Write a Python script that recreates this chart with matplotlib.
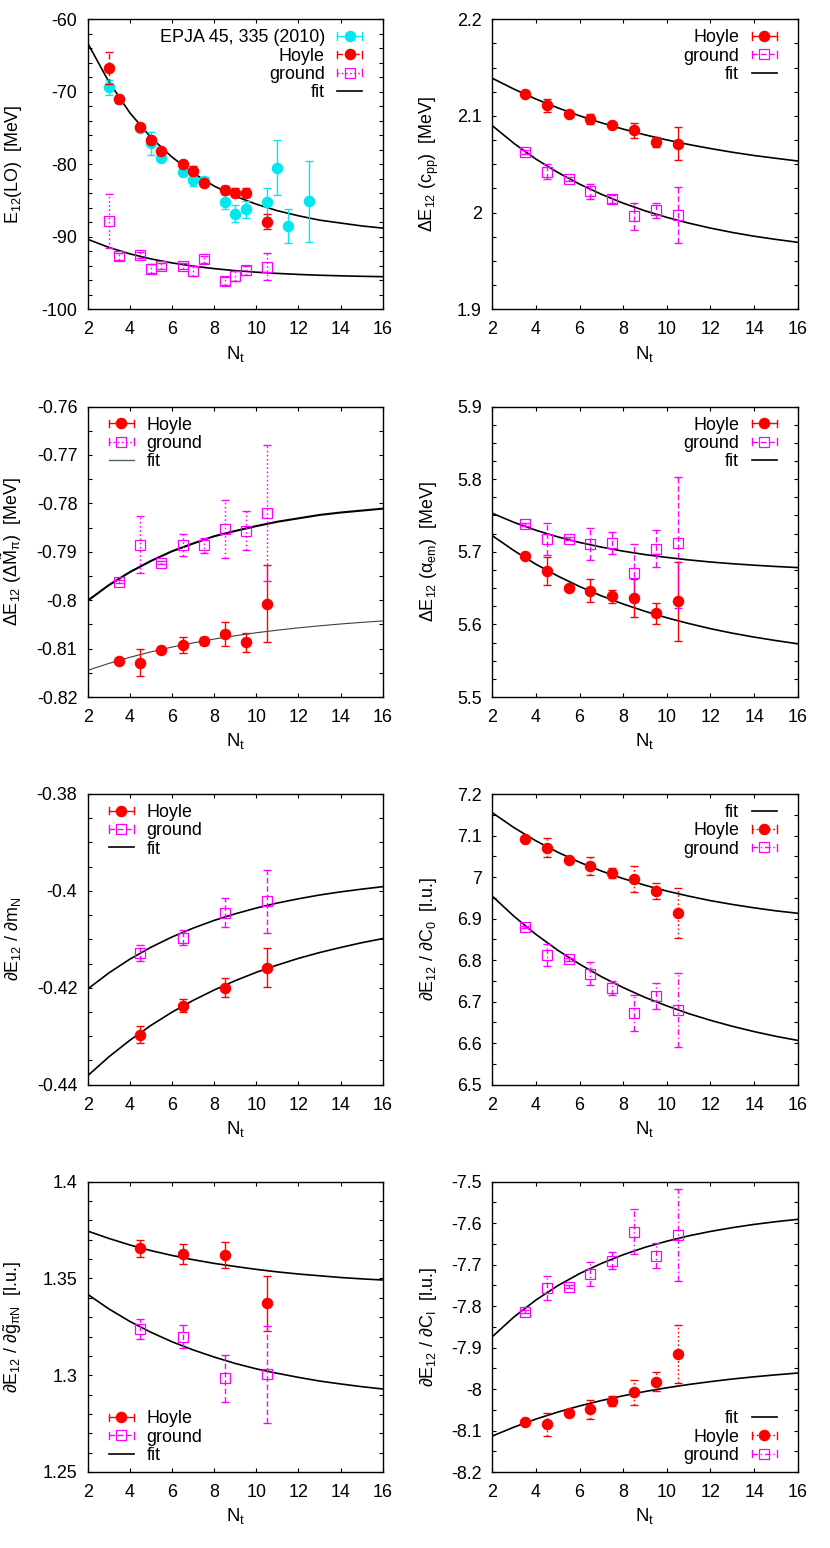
import matplotlib
matplotlib.use('Agg')
import matplotlib.pyplot as plt
from matplotlib.ticker import MultipleLocator, FormatStrFormatter
from matplotlib.legend_handler import HandlerBase
from matplotlib.lines import Line2D

plt.rcParams['font.family'] = ['Liberation Sans', 'DejaVu Sans']
plt.rcParams['mathtext.fontset'] = 'custom'
plt.rcParams['mathtext.rm'] = 'Liberation Sans'
plt.rcParams['mathtext.it'] = 'Liberation Sans:italic'
plt.rcParams['mathtext.bf'] = 'Liberation Sans:bold'
plt.rcParams['mathtext.default'] = 'regular'
plt.rcParams['axes.unicode_minus'] = False

FS = 12.9

# ---------------- data ----------------
FIT_NT = [2, 3, 4, 5, 6, 7, 8, 9, 10, 11, 12, 13, 14, 15, 16]
NT_ALL = [3.5, 4.5, 5.5, 6.5, 7.5, 8.5, 9.5, 10.5]
NT_EVEN = [4.5, 6.5, 8.5, 10.5]

# panel 1: E12(LO)
LO_NT = [3, 3.5, 4.5, 5, 5.5, 6.5, 7, 7.5, 8.5, 9, 9.5, 10.5]
LO_EPJA_NT = [3, 3.5, 4.5, 5, 5.5, 6.5, 7, 7.5, 8.5, 9, 9.5, 10.5, 11, 11.5, 12.5]
LO_EPJA = [-69.4, -71.0, -75.0, -77.1, -79.1, -81.05, -82.1, -82.3, -85.2, -86.8, -86.2, -85.2, -80.5, -88.5, -85.1]
LO_EPJA_ERR = [1.0, 0.6, 0.4, 1.6, 0.5, 0.5, 0.9, 0.5, 1.0, 1.2, 1.2, 2.0, 3.8, 2.4, 5.6]
LO_HOYLE = [-66.7, -71.0, -74.8, -76.6, -78.2, -79.95, -80.9, -82.6, -83.5, -83.9, -83.9, -87.9]
LO_HOYLE_ERR = [2.2, 0.5, 0.4, 0.5, 0.4, 0.4, 0.6, 0.4, 0.5, 0.6, 0.6, 1.0]
LO_GROUND = [-87.8, -92.7, -92.5, -94.4, -94.0, -94.0, -94.7, -93.1, -96.1, -95.4, -94.6, -94.1]
LO_GROUND_ERR = [3.7, 0.5, 0.4, 0.6, 0.4, 0.4, 0.7, 0.5, 0.5, 0.7, 0.6, 1.8]
LO_FIT_HOYLE = [-63.3, -68.6, -72.9, -76.3, -79.0, -81.2, -83.0, -84.4, -85.5, -86.4, -87.1, -87.7, -88.1, -88.5, -88.8]
LO_FIT_GROUND = [-90.34, -91.46, -92.35, -93.05, -93.60, -94.04, -94.39, -94.67, -94.88, -95.05, -95.19, -95.30, -95.38, -95.45, -95.50]

# panel 2: dE12(c_pp)
CPP_HOYLE = [2.1224, 2.111, 2.1024, 2.0966, 2.091, 2.0852, 2.0728, 2.0714]
CPP_HOYLE_ERR = [0.002, 0.007, 0.002, 0.005, 0.003, 0.008, 0.005, 0.017]
CPP_GROUND = [2.0631, 2.0424, 2.0352, 2.0221, 2.0141, 1.9962, 2.0024, 1.9976]
CPP_GROUND_ERR = [0.002, 0.008, 0.002, 0.008, 0.004, 0.014, 0.008, 0.029]
CPP_FIT_HOYLE = [2.139, 2.1277, 2.1175, 2.1084, 2.1002, 2.0929, 2.0864, 2.0805, 2.0752, 2.0705, 2.0663, 2.0625, 2.0591, 2.0562, 2.0534]
CPP_FIT_GROUND = [2.0900, 2.0715, 2.0554, 2.0416, 2.0295, 2.0190, 2.0098, 2.0019, 1.9951, 1.9892, 1.9840, 1.9795, 1.9756, 1.9723, 1.9693]

# panel 3: dE12(dM_pi)
MPI_HOYLE = [-0.81256, -0.8129, -0.81036, -0.80925, -0.80843, -0.80698, -0.8087, -0.8007]
MPI_HOYLE_ERR = [0.0003, 0.0028, 0.0003, 0.0017, 0.0008, 0.0025, 0.002, 0.0079]
MPI_GROUND = [-0.79623, -0.78852, -0.7923, -0.78859, -0.78866, -0.78521, -0.78563, -0.78204]
MPI_GROUND_ERR = [0.0003, 0.0059, 0.0003, 0.0023, 0.0016, 0.0060, 0.0041, 0.0141]
MPI_FIT_GROUND = [-0.8001, -0.7969, -0.7942, -0.7919, -0.7899, -0.7883, -0.7868, -0.7857, -0.7847, -0.7838, -0.7831, -0.7824, -0.7819, -0.7815, -0.7811]
MPI_FIT_HOYLE = [-0.81449, -0.81307, -0.81180, -0.81068, -0.80969, -0.80882, -0.80803, -0.80735, -0.80673, -0.80620, -0.80572, -0.80530, -0.80492, -0.80459, -0.80429]

# panel 4: dE12(alpha_em)
AEM_HOYLE = [5.6947, 5.6732, 5.6507, 5.6466, 5.6384, 5.6365, 5.615, 5.6315]
AEM_HOYLE_ERR = [0.002, 0.019, 0.002, 0.016, 0.0096, 0.026, 0.015, 0.055]
AEM_GROUND = [5.7378, 5.718, 5.718, 5.7103, 5.7125, 5.6713, 5.7044, 5.7125]
AEM_GROUND_ERR = [0.002, 0.022, 0.002, 0.022, 0.015, 0.04, 0.025, 0.09]
AEM_FIT_GROUND = [5.7530, 5.7404, 5.7296, 5.7205, 5.7128, 5.7064, 5.7008, 5.6961, 5.6922, 5.6888, 5.6859, 5.6835, 5.6815, 5.6797, 5.6782]
AEM_FIT_HOYLE = [5.7222, 5.7014, 5.6828, 5.6666, 5.6521, 5.6393, 5.6280, 5.6180, 5.6091, 5.6012, 5.5941, 5.5879, 5.5825, 5.5777, 5.5733]

# panel 5: dE12/dm_N
MN_HOYLE = [-0.42968, -0.42369, -0.41998, -0.41585]
MN_HOYLE_ERR = [0.0017, 0.0013, 0.0019, 0.0040]
MN_GROUND = [-0.41282, -0.40966, -0.4045, -0.40216]
MN_GROUND_ERR = [0.0016, 0.0016, 0.0030, 0.0065]
MN_FIT_GROUND = [-0.42025, -0.41695, -0.41409, -0.41164, -0.40951, -0.40769, -0.40609, -0.40473, -0.40354, -0.40250, -0.40163, -0.40085, -0.40020, -0.39964, -0.39913]
MN_FIT_HOYLE = [-0.43814, -0.43427, -0.43083, -0.42777, -0.42503, -0.42261, -0.42046, -0.41853, -0.41681, -0.41530, -0.41393, -0.41273, -0.41168, -0.41070, -0.40985]

# panel 6: dE12/dC0
C0_HOYLE = [7.0908, 7.0708, 7.0419, 7.0266, 7.0097, 6.9945, 6.9664, 6.9134]
C0_HOYLE_ERR = [0.003, 0.023, 0.003, 0.022, 0.012, 0.031, 0.019, 0.061]
C0_GROUND = [6.8797, 6.8131, 6.8018, 6.7673, 6.7336, 6.6726, 6.7127, 6.6798]
C0_GROUND_ERR = [0.003, 0.0265, 0.003, 0.027, 0.017, 0.044, 0.031, 0.09]
C0_FIT_HOYLE = [7.1550, 7.1188, 7.0872, 7.0598, 7.0356, 7.0145, 6.9963, 6.9803, 6.9663, 6.9541, 6.9432, 6.9341, 6.9259, 6.9187, 6.9128]
C0_FIT_GROUND = [6.9540, 6.9052, 6.8620, 6.8238, 6.7903, 6.7602, 6.7339, 6.7102, 6.6898, 6.6712, 6.6551, 6.6407, 6.6279, 6.6165, 6.6067]

# panel 7: dE12/dg_piN
GPN_HOYLE = [1.36556, 1.36263, 1.36211, 1.33714]
GPN_HOYLE_ERR = [0.0044, 0.005, 0.0069, 0.0142]
GPN_GROUND = [1.32389, 1.31992, 1.29840, 1.30047]
GPN_GROUND_ERR = [0.0053, 0.006, 0.012, 0.025]
GPN_FIT_HOYLE = [1.3745, 1.3707, 1.3673, 1.3644, 1.3619, 1.3597, 1.3578, 1.3562, 1.3547, 1.3534, 1.3523, 1.3514, 1.3505, 1.3498, 1.3492]
GPN_FIT_GROUND = [1.3418, 1.3343, 1.3278, 1.3222, 1.3173, 1.3131, 1.3094, 1.3061, 1.3033, 1.3010, 1.2989, 1.2970, 1.2955, 1.2941, 1.2929]

# panel 8: dE12/dC_I
CI_HOYLE = [-8.0788, -8.0852, -8.0587, -8.049, -8.0289, -8.008, -7.9823, -7.9156]
CI_HOYLE_ERR = [0.003, 0.027, 0.003, 0.022, 0.013, 0.03, 0.0225, 0.0703]
CI_GROUND = [-7.8135, -7.7572, -7.7532, -7.7227, -7.6905, -7.6206, -7.6785, -7.6286]
CI_GROUND_ERR = [0.003, 0.029, 0.003, 0.03, 0.021, 0.0547, 0.030, 0.11]
CI_FIT_GROUND = [-7.8738, -7.8258, -7.7853, -7.7508, -7.7216, -7.6971, -7.6761, -7.6582, -7.6435, -7.6306, -7.6199, -7.6108, -7.6030, -7.5964, -7.5908]
CI_FIT_HOYLE = [-8.1133, -8.0917, -8.0724, -8.0556, -8.0407, -8.0277, -8.0162, -8.0059, -7.9969, -7.9890, -7.9821, -7.9758, -7.9705, -7.9657, -7.9614]

# ---------------- styles ----------------
RED = '#ff0000'
MAG = '#ff00ff'
CYAN = '#00e8f0'
SOLID = '-'
DASH = (0, (4, 2))
DOT = (0, (1.2, 1.8))
DASHDOT = (0, (4, 2, 1, 2))


class ErrKey:
    def __init__(self, color, ls, marker, filled, lw=1.0):
        self.color = color
        self.ls = ls
        self.marker = marker
        self.filled = filled
        self.lw = lw


class LineKey:
    def __init__(self, color, lw):
        self.color = color
        self.lw = lw


class ErrHandler(HandlerBase):
    def create_artists(self, legend, orig, xdescent, ydescent, width, height,
                       fontsize, trans):
        y = height / 2 - ydescent
        x0 = -xdescent
        x1 = width - xdescent
        c = 2.6
        arts = [Line2D([x0, x1], [y, y], color=orig.color, lw=orig.lw, ls=orig.ls),
                Line2D([x0, x0], [y - c, y + c], color=orig.color, lw=orig.lw),
                Line2D([x1, x1], [y - c, y + c], color=orig.color, lw=orig.lw)]
        if orig.filled:
            m = Line2D([(x0 + x1) / 2], [y], marker=orig.marker, ms=7.3, color=orig.color,
                       mfc=orig.color, mec=orig.color, ls='none')
        else:
            m = Line2D([(x0 + x1) / 2], [y], marker=orig.marker, ms=7, color=orig.color,
                       mfc='none', mec=orig.color, mew=0.9, ls='none')
        arts.append(m)
        for a in arts:
            a.set_transform(trans)
        return arts


class LineHandler(HandlerBase):
    def create_artists(self, legend, orig, xdescent, ydescent, width, height,
                       fontsize, trans):
        y = height / 2 - ydescent
        ln = Line2D([-xdescent, width - xdescent], [y, y], color=orig.color, lw=orig.lw)
        ln.set_transform(trans)
        return [ln]


HMAP = {ErrKey: ErrHandler(), LineKey: LineHandler()}

W, H = 830, 1548
fig = plt.figure(figsize=(W / 100, H / 100), dpi=100)

LEFT = (87.7, 382.7)
RIGHT = (492.3, 797.7)
ROWS = [(19.3, 309.3), (406.5, 697.0), (794.0, 1084.7), (1181.7, 1472.0)]


def make_ax(col, row):
    x0, x1 = col
    t, b = ROWS[row]
    return fig.add_axes([x0 / W, 1 - b / H, (x1 - x0) / W, (b - t) / H])


def style_ax(ax, ylim, major, minor, fmt, ylabel, left_col):
    ax.set_xlim(2, 16)
    ax.set_ylim(*ylim)
    ax.xaxis.set_major_locator(MultipleLocator(2))
    ax.yaxis.set_major_locator(MultipleLocator(major))
    ax.yaxis.set_minor_locator(MultipleLocator(minor))
    ax.yaxis.set_major_formatter(FormatStrFormatter(fmt))
    ax.tick_params(which='both', direction='in', top=True, right=True,
                   length=3.0, width=0.8, labelsize=FS)
    ax.tick_params(axis='y', pad=7.5)
    ax.tick_params(axis='x', pad=8.5)
    for s in ax.spines.values():
        s.set_linewidth(1.0)
    ax.set_xlabel('N$_t$', fontsize=FS + 0.5)
    ax.xaxis.set_label_coords(0.5, -0.170)
    ax.xaxis.label.set_va('baseline')
    ax.set_ylabel(ylabel, fontsize=FS)
    ax.yaxis.set_label_coords(-0.236 if left_col else -0.193, 0.5)
    ax.yaxis.label.set_va('baseline')


def errplot(ax, x, y, e, color, ls, marker, filled, z=3):
    cont = ax.errorbar(x, y, yerr=e, fmt='none', ecolor=color, elinewidth=1.0,
                       capsize=2.9, capthick=1.0, zorder=z)
    for bc in cont[2]:
        bc.set_linestyle(ls)
    if filled:
        ax.plot(x, y, ls='none', marker=marker, ms=7.3, color=color, mec=color, zorder=z + 0.1)
    else:
        ax.plot(x, y, ls='none', marker=marker, ms=7, mfc='none', mec=color,
                mew=0.9, zorder=z + 0.1)


def fitplot(ax, y, color='k', lw=1.2):
    ax.plot(FIT_NT, y, color=color, lw=lw, zorder=2)


def legend(ax, handles, labels, loc, anchor, markerfirst):
    ax.legend(handles, labels, loc=loc, bbox_to_anchor=anchor, frameon=False,
              fontsize=FS, handlelength=1.4, handletextpad=0.7, labelspacing=0.07,
              borderpad=0, borderaxespad=0, markerfirst=markerfirst, handler_map=HMAP)


UR = (1 - 21 / 305.4, 1 - 10 / 290)
UL = (21 / 295, 1 - 10 / 290)
LL = (21 / 295, 8 / 290)
LR = (1 - 21 / 305.4, 8 / 290)

# ---- panel 1 ----
ax = make_ax(LEFT, 0)
fitplot(ax, LO_FIT_HOYLE)
fitplot(ax, LO_FIT_GROUND)
errplot(ax, LO_EPJA_NT, LO_EPJA, LO_EPJA_ERR, CYAN, SOLID, 'o', True, z=3)
errplot(ax, LO_NT, LO_HOYLE, LO_HOYLE_ERR, RED, DASH, 'o', True, z=4)
errplot(ax, LO_NT, LO_GROUND, LO_GROUND_ERR, MAG, DOT, 's', False, z=4)
style_ax(ax, (-100, -60), 10, 2, '%g', 'E$_{12}$(LO)  [MeV]', True)
legend(ax, [ErrKey(CYAN, SOLID, 'o', True), ErrKey(RED, DASH, 'o', True),
            ErrKey(MAG, DOT, 's', False), LineKey('k', 1.2)],
       ['EPJA 45, 335 (2010)', 'Hoyle', 'ground', 'fit'], 'upper right', UR, False)

# ---- panel 2 ----
ax = make_ax(RIGHT, 0)
fitplot(ax, CPP_FIT_HOYLE)
fitplot(ax, CPP_FIT_GROUND)
errplot(ax, NT_ALL, CPP_HOYLE, CPP_HOYLE_ERR, RED, SOLID, 'o', True)
errplot(ax, NT_ALL, CPP_GROUND, CPP_GROUND_ERR, MAG, DASH, 's', False)
style_ax(ax, (1.9, 2.2), 0.1, 0.025, '%g', '\u0394E$_{12}$ (c$_{pp}$)  [MeV]', False)
legend(ax, [ErrKey(RED, SOLID, 'o', True), ErrKey(MAG, DASH, 's', False), LineKey('k', 1.2)],
       ['Hoyle', 'ground', 'fit'], 'upper right', UR, False)

# ---- panel 3 ----
ax = make_ax(LEFT, 1)
fitplot(ax, MPI_FIT_GROUND, 'k', 1.5)
fitplot(ax, MPI_FIT_HOYLE, '#404040', 0.8)
errplot(ax, NT_ALL, MPI_HOYLE, MPI_HOYLE_ERR, RED, SOLID, 'o', True)
errplot(ax, NT_ALL, MPI_GROUND, MPI_GROUND_ERR, MAG, DOT, 's', False)
style_ax(ax, (-0.82, -0.76), 0.01, 0.005, '%g',
         '\u0394E$_{12}$ (\u0394$\\tilde{M}_{\\pi}$)  [MeV]', True)
legend(ax, [ErrKey(RED, SOLID, 'o', True), ErrKey(MAG, DOT, 's', False), LineKey('#606060', 1.0)],
       ['Hoyle', 'ground', 'fit'], 'upper left', UL, True)

# ---- panel 4 ----
ax = make_ax(RIGHT, 1)
fitplot(ax, AEM_FIT_GROUND)
fitplot(ax, AEM_FIT_HOYLE)
errplot(ax, NT_ALL, AEM_HOYLE, AEM_HOYLE_ERR, RED, SOLID, 'o', True)
errplot(ax, NT_ALL, AEM_GROUND, AEM_GROUND_ERR, MAG, DASH, 's', False)
style_ax(ax, (5.5, 5.9), 0.1, 0.025, '%g', '\u0394E$_{12}$ (\u03b1$_{em}$)  [MeV]', False)
legend(ax, [ErrKey(RED, SOLID, 'o', True), ErrKey(MAG, DASH, 's', False), LineKey('k', 1.2)],
       ['Hoyle', 'ground', 'fit'], 'upper right', UR, False)

# ---- panel 5 ----
ax = make_ax(LEFT, 2)
fitplot(ax, MN_FIT_GROUND)
fitplot(ax, MN_FIT_HOYLE)
errplot(ax, NT_EVEN, MN_HOYLE, MN_HOYLE_ERR, RED, SOLID, 'o', True)
errplot(ax, NT_EVEN, MN_GROUND, MN_GROUND_ERR, MAG, DASH, 's', False)
style_ax(ax, (-0.44, -0.38), 0.02, 0.005, '%g', '\u2202E$_{12}$ / \u2202m$_N$', True)
legend(ax, [ErrKey(RED, SOLID, 'o', True), ErrKey(MAG, DASH, 's', False), LineKey('k', 1.2)],
       ['Hoyle', 'ground', 'fit'], 'upper left', UL, True)

# ---- panel 6 ----
ax = make_ax(RIGHT, 2)
fitplot(ax, C0_FIT_HOYLE)
fitplot(ax, C0_FIT_GROUND)
errplot(ax, NT_ALL, C0_HOYLE, C0_HOYLE_ERR, RED, DOT, 'o', True)
errplot(ax, NT_ALL, C0_GROUND, C0_GROUND_ERR, MAG, DASHDOT, 's', False)
style_ax(ax, (6.5, 7.2), 0.1, 0.05, '%g', '\u2202E$_{12}$ / \u2202C$_0$  [l.u.]', False)
legend(ax, [LineKey('k', 1.2), ErrKey(RED, DOT, 'o', True), ErrKey(MAG, DASHDOT, 's', False)],
       ['fit', 'Hoyle', 'ground'], 'upper right', UR, False)

# ---- panel 7 ----
ax = make_ax(LEFT, 3)
fitplot(ax, GPN_FIT_HOYLE)
fitplot(ax, GPN_FIT_GROUND)
errplot(ax, NT_EVEN, GPN_HOYLE, GPN_HOYLE_ERR, RED, SOLID, 'o', True)
errplot(ax, NT_EVEN, GPN_GROUND, GPN_GROUND_ERR, MAG, DASH, 's', False)
style_ax(ax, (1.25, 1.4), 0.05, 0.01, '%g',
         '\u2202E$_{12}$ / \u2202$\\tilde{g}_{\\pi N}$  [l.u.]', True)
legend(ax, [ErrKey(RED, SOLID, 'o', True), ErrKey(MAG, DASH, 's', False), LineKey('k', 1.2)],
       ['Hoyle', 'ground', 'fit'], 'lower left', LL, True)

# ---- panel 8 ----
ax = make_ax(RIGHT, 3)
fitplot(ax, CI_FIT_GROUND)
fitplot(ax, CI_FIT_HOYLE)
errplot(ax, NT_ALL, CI_HOYLE, CI_HOYLE_ERR, RED, DOT, 'o', True)
errplot(ax, NT_ALL, CI_GROUND, CI_GROUND_ERR, MAG, DASHDOT, 's', False)
style_ax(ax, (-8.2, -7.5), 0.1, 0.05, '%g', '\u2202E$_{12}$ / \u2202C$_I$  [l.u.]', False)
legend(ax, [LineKey('k', 1.2), ErrKey(RED, DOT, 'o', True), ErrKey(MAG, DASHDOT, 's', False)],
       ['fit', 'Hoyle', 'ground'], 'lower right', LR, False)

fig.savefig('out.png', dpi=100)
